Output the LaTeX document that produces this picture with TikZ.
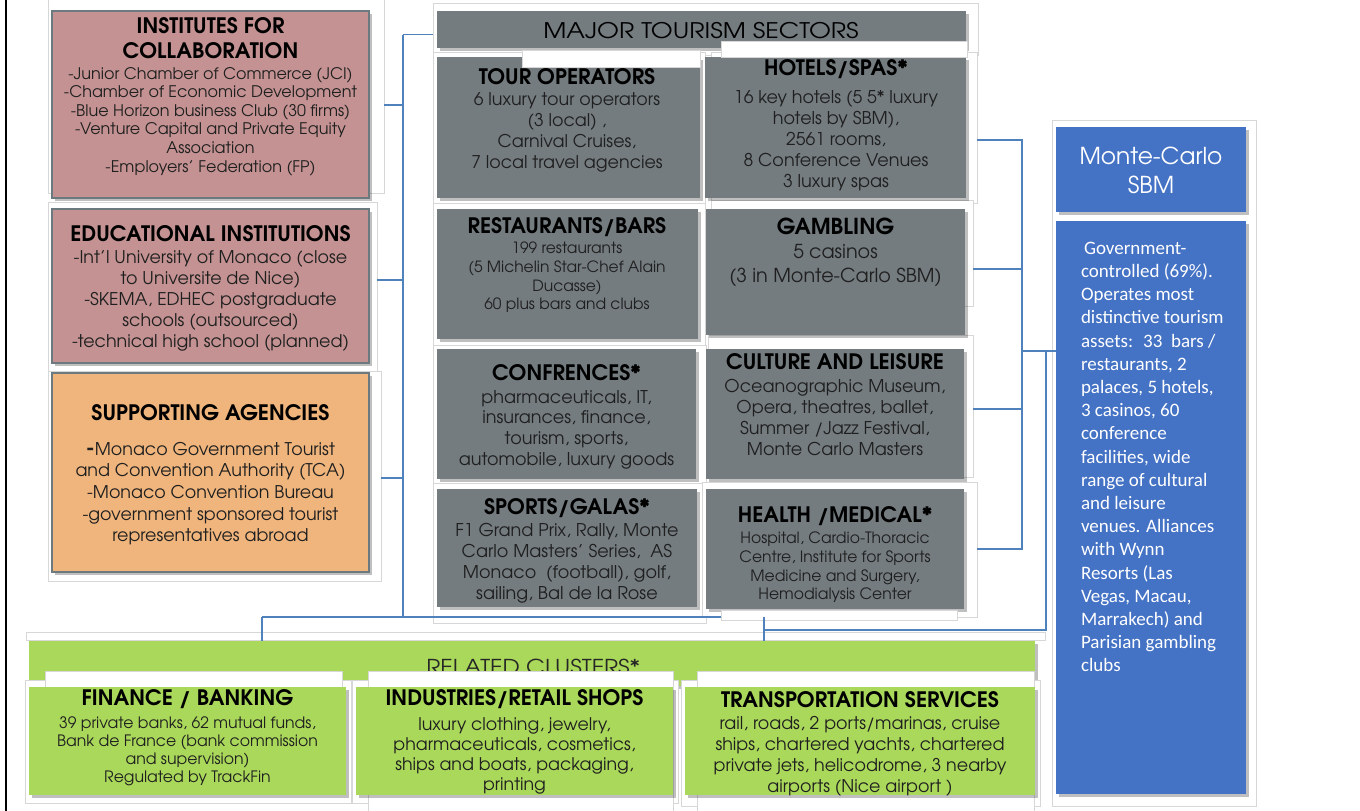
\documentclass[tikz,border=0pt]{standalone}
\usepackage{graphicx}
\usepackage{fontspec}
\setmainfont{TeX Gyre Adventor}
\newfontfamily\calib{Carlito}
\usetikzlibrary{shadows}
\definecolor{gbox}{RGB}{116,124,128}
\definecolor{pinkbox}{RGB}{196,146,146}
\definecolor{orangebox}{RGB}{239,181,125}
\definecolor{greenbox}{RGB}{170,216,90}
\definecolor{bluebox}{RGB}{68,114,196}
\definecolor{connc}{RGB}{79,129,189}
\definecolor{edgec}{RGB}{108,122,127}
\definecolor{framec}{RGB}{215,215,215}
\newcommand\bx[6]{\node[#2, minimum width=#5, minimum height=#6] (#1) at (#3,#4) {};}
\newcommand\fr[5]{\node[framebox, minimum width=#4-#2, minimum height=#5-#3] (#1) at (#2,#3) {};}
\newcommand\fs[2]{\fontsize{#1}{#2}\selectfont}
\begin{document}
\begin{tikzpicture}[x=1pt,y=-1pt,
  boxbase/.style={anchor=north west, inner sep=0, outer sep=0,
    drop shadow={shadow xshift=3pt, shadow yshift=-3pt, opacity=0.25, fill=black}},
  sector/.style={boxbase, fill=gbox},
  leftbox/.style={boxbase, draw=edgec, line width=2.4pt},
  greenb/.style={boxbase, fill=greenbox},
  blueb/.style={boxbase, fill=bluebox},
  framebox/.style={anchor=north west, inner sep=0, outer sep=0, draw=framec, fill=white, line width=0.6pt},
  whitebox/.style={anchor=north west, inner sep=0, outer sep=0, draw=framec, fill=white, line width=0.6pt},
  txt/.style={inner sep=0, outer sep=0, align=center, anchor=north, text=black!88},
  ttl/.style={inner sep=0, outer sep=0, align=center, anchor=base, text=black, font=\bfseries\fs{21.3}{25}},
  conn/.style={draw=connc, line width=1.8pt}
]
\useasboundingbox (0,0) rectangle (1360,811);
\fill[white] (0,0) rectangle (1360,811);
\draw[line width=2pt] (6,0) -- (6,811);

% ---------- frames (background) ----------
\fr{instF}{48}{-2}{384}{193}
\fr{eduF}{48}{202}{377}{371}
\fr{suppF}{48}{371}{381}{581}
\fr{majF}{433}{3}{978}{55}
\fr{tourF}{433}{52}{705}{203}
\fr{hotelF}{711}{52}{977}{203}
\fr{restF}{433}{203}{705}{345}
\fr{gambF}{711}{200}{973}{306}
\fr{confF}{433}{345}{706}{483}
\fr{cultF}{708}{335}{973}{477}
\fr{sportF}{433}{483}{706}{623}
\fr{healthF}{702}{482}{977}{617}
\fr{sbmF}{1052}{120}{1256}{806}
\fr{clF}{26}{632}{1045}{640}

% ---------- connectors ----------
\coordinate (busx) at (403,0);
\coordinate (rbx) at (1022,0);
\coordinate (rb2) at (1046,0);
\coordinate (lowy) at (0,617);
\coordinate (sbmy) at (0,630);
\draw[conn] ([yshift=-5.5pt]majF.west -| busx) |- ([yshift=-5.5pt]majF.west);
\draw[conn] (busx |- 0,35) -- (busx |- lowy);
\draw[conn] (instF.east |- 0,105) -- (busx |- 0,105);
\draw[conn] (eduF.east |- 0,280) -- (busx |- 0,280);
\draw[conn] (suppF.east |- 0,478) -- (busx |- 0,478);
\draw[conn] (262,617) coordinate (lowL) -- (764,617) coordinate (lowR);
\draw[conn] (hotelF.east |- 0,140) -- (rbx |- 0,140) -- (rbx |- 0,549) -- (healthF.east |- 0,549);
\draw[conn] (gambF.east |- 0,269) -- (rbx |- 0,269);
\draw[conn] (cultF.east |- 0,409) -- (rbx |- 0,409);

% ---------- left boxes ----------
\bx{inst}{leftbox, fill=pinkbox}{52}{11}{317}{187}
\bx{edu}{leftbox, fill=pinkbox}{52}{209}{317}{154}
\bx{supp}{leftbox, fill=orangebox}{52}{373}{317}{199}

\node[txt, font=\bfseries\fs{21.3}{25}, text=black] (instT) at (210.5,17) {INSTITUTES FOR\\COLLABORATION};
\node[txt, font=\fs{16}{18.6}] (instB) at (210.5,67) {-Junior Chamber of Commerce (JCI)\\-Chamber of Economic Development\\-Blue Horizon business Club (30 firms)\\-Venture Capital and Private Equity\\Association\\-Employers' Federation (FP)};
\node[ttl] (eduT) at (210.5,241) {EDUCATIONAL INSTITUTIONS};
\node[txt, font=\fs{17.5}{21}] (eduB) at (210.5,251) {-Int'l University of Monaco (close\\to Universite de Nice)\\-SKEMA, EDHEC postgraduate\\schools (outsourced)\\-technical high school (planned)};
\node[ttl] (suppT) at (210.5,420) {SUPPORTING AGENCIES};
\node[txt, font=\fs{17.5}{21.7}] (suppB) at (210.5,442) {{\bfseries\fs{21}{21.7}-}Monaco Government Tourist\\and Convention Authority (TCA)\\-Monaco Convention Bureau\\-government sponsored tourist\\representatives abroad};

% ---------- sectors ----------
\bx{major}{sector}{437}{11}{529}{37}
\node[ttl, font=\fs{21.5}{24}, text=black] (majT) at (701,38.5) {\scalebox{1.17}[1]{MAJOR TOURISM SECTORS}};
\bx{tour}{sector}{437}{57}{263}{141}
\bx{hotel}{sector}{705}{57}{261}{141}
\bx{rest}{sector}{437}{209}{261}{130}
\bx{gamb}{sector}{706}{209}{259}{126}
\bx{conf}{sector}{437}{349}{259}{130}
\bx{cult}{sector}{706}{349}{258}{130}
\bx{sport}{sector}{437}{489}{260}{118}
\bx{health}{sector}{706}{489}{258}{120}

\node[whitebox, minimum width=246, minimum height=16] (wA) at (721,41) {};
\node[whitebox, minimum width=178, minimum height=17] (wB) at (522,50) {};
\node[whitebox, minimum width=236, minimum height=10] (wC) at (721,610) {};
\draw[conn] (lowR) -- (lowR |- 0,641);

\node[ttl] (tourT) at (567,84) {TOUR OPERATORS};
\node[txt, font=\fs{17.5}{21}] (tourB) at (567,93) {6 luxury tour operators\\(3 local) ,\\Carnival Cruises,\\7 local travel agencies};
\node[ttl] (hotelT) at (836,75) {HOTELS/SPAS*};
\node[txt, font=\fs{17.6}{21.2}] (hotelB) at (836,90) {16 key hotels (5 5* luxury\\hotels by SBM),\\2561 rooms,\\8 Conference Venues\\3 luxury spas};
\node[ttl] (restT) at (567,233) {RESTAURANTS/BARS};
\node[txt, font=\fs{15.5}{18.7}] (restB) at (567,242) {199 restaurants\\(5 Michelin Star-Chef Alain\\Ducasse)\\60 plus bars and clubs};
\node[ttl, font=\bfseries\fs{22}{25}] (gambT) at (835.5,234) {GAMBLING};
\node[txt, font=\fs{19.2}{24}] (gambB) at (835.5,244) {5 casinos\\(3 in Monte-Carlo SBM)};
\node[ttl] (confT) at (566.5,380) {CONFRENCES*};
\node[txt, font=\fs{17.6}{20.7}] (confB) at (566.5,390) {pharmaceuticals, IT,\\insurances, finance,\\tourism, sports,\\automobile, luxury goods};
\node[ttl] (cultT) at (835,369) {CULTURE AND LEISURE};
\node[txt, font=\fs{17.6}{21}] (cultB) at (835,379) {Oceanographic Museum,\\Opera, theatres, ballet,\\Summer /Jazz Festival,\\Monte Carlo Masters};
\node[ttl] (sportT) at (567,514) {SPORTS/GALAS*};
\node[txt, font=\fs{17.6}{21}] (sportB) at (567,523) {F1 Grand Prix, Rally, Monte\\Carlo Masters' Series,~ AS\\Monaco~ (football), golf,\\sailing, Bal de la Rose};
\node[ttl] (healthT) at (835,522) {HEALTH /MEDICAL*};
\node[txt, font=\fs{15.6}{18.7}] (healthB) at (835,532) {Hospital, Cardio-Thoracic\\Centre, Institute for Sports\\Medicine and Surgery,\\Hemodialysis Center};

% ---------- Monte-Carlo SBM ----------
\bx{sbmH}{blueb}{1056}{127}{190}{85}
\bx{sbmB}{blueb}{1056}{221}{190}{573}
\node[txt, font=\fs{23.3}{29}, text=white] (sbmHT) at (1151,147) {Monte-Carlo\\SBM};
\node[txt, anchor=north west, align=left, font=\calib\fs{19}{23.2}, text=white] (sbmBT) at (1081,242) {\hspace{3pt}Government-\\controlled (69\%).\\Operates most\\distinctive tourism\\assets:~ 33~ bars /\\restaurants, 2\\palaces, 5 hotels,\\3 casinos, 60\\conference\\facilities, wide\\range of cultural\\and leisure\\venues. Alliances\\with Wynn\\Resorts (Las\\Vegas, Macau,\\Marrakech) and\\Parisian gambling\\clubs};
\draw[conn] (rbx |- 0,351) -- (sbmB.west |- 0,351);
\draw[conn] (rb2 |- 0,351) -- (rb2 |- sbmy) -- (lowR |- sbmy);

% ---------- related clusters ----------
\bx{clus}{greenb}{29}{641}{1006}{45}
\draw[conn] (lowL) -- (lowL |- clus.north);
\node[ttl, font=\fs{20.5}{24}, text=black!85] (clusT) at (533,674) {\scalebox{1.13}[1]{RELATED CLUSTERS*}};
\fr{finF}{25}{680}{351}{803}
\fr{indF}{352}{680}{678}{803}
\fr{transF}{681}{680}{1040}{806}
\node[whitebox, minimum width=297, minimum height=16] (wF) at (45,671) {};
\node[whitebox, minimum width=305, minimum height=145] (wI) at (368,671) {};
\node[whitebox, minimum width=337, minimum height=145] (wT) at (697,671) {};
\bx{fin}{greenb}{29}{687}{317}{108}
\bx{ind}{greenb}{356}{687}{317}{108}
\bx{trans}{greenb}{685}{687}{350}{108}

\node[ttl] (finT) at (187.5,705) {FINANCE / BANKING};
\node[txt, font=\fs{15.7}{18}] (finB) at (187.5,717) {39 private banks, 62 mutual funds,\\Bank de France (bank commission\\and supervision)\\Regulated by TrackFin};
\node[ttl] (indT) at (514.5,705) {INDUSTRIES/RETAIL SHOPS};
\node[txt, font=\fs{17.4}{20}] (indB) at (514.5,718) {luxury clothing, jewelry,\\pharmaceuticals, cosmetics,\\ships and boats, packaging,\\printing};
\node[ttl] (transT) at (860,707) {TRANSPORTATION SERVICES};
\node[txt, font=\fs{17.5}{21}] (transB) at (860,716) {rail, roads, 2 ports/marinas, cruise\\ships, chartered yachts, chartered\\private jets, helicodrome, 3 nearby\\airports (Nice airport )};
\end{tikzpicture}
\end{document}
